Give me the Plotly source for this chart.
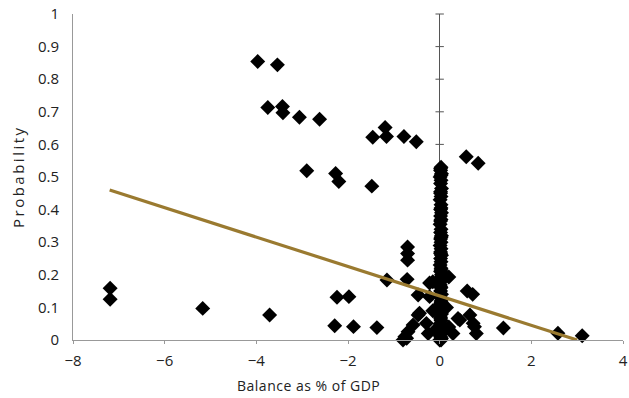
import plotly.graph_objects as go

# ---- data ----
# scattered observations away from zero balance
pts_x = [-3.97, -3.54, -3.75, -3.43, -3.42, -3.06, -2.62, -1.46, -1.19, -1.16, -0.78, -0.51,
         -2.90, -2.27, -2.20, -1.48, 0.58, 0.84,
         -7.19, -7.19, -5.17, -3.71, -2.24, -1.98, -2.29, -1.88, -1.37, -1.15,
         -0.70, -0.70, -0.70, -0.71, -0.47, -0.44, -0.47, -0.58, -0.69, -0.76, -0.80, -0.72,
         -0.15, -0.22, -0.22, 0.20, 0.60, 0.72, 0.40, 0.44, 0.66, 0.73, 0.76, 0.80, 0.29, 0.04,
         1.39, 2.58, 3.11, -0.29, 0.00, -0.25, 0.15, -0.15, 0.20, -0.10]
pts_y = [0.854, 0.844, 0.713, 0.716, 0.697, 0.683, 0.677, 0.622, 0.652, 0.624, 0.624, 0.608,
         0.519, 0.511, 0.486, 0.472, 0.562, 0.542,
         0.159, 0.125, 0.097, 0.077, 0.131, 0.133, 0.044, 0.041, 0.038, 0.184,
         0.285, 0.265, 0.245, 0.186, 0.138, 0.082, 0.077, 0.046, 0.025, 0.010, 0.000, 0.005,
         0.179, 0.175, 0.133, 0.193, 0.150, 0.140, 0.066, 0.061, 0.077, 0.051, 0.041, 0.020, 0.020, 0.005,
         0.037, 0.021, 0.013, 0.051, 0.000, 0.020, 0.100, 0.090, 0.040, 0.030]

# dense column of observations at (near) zero balance
col_x = [0.03, 0.02, 0.04, 0.01, 0.03, 0.02, 0.04, 0.02, 0.03, 0.01, 0.03, 0.02, 0.04, 0.02,
         0.03, 0.01, 0.03, 0.02, 0.04, 0.02, 0.03, 0.01, 0.03, 0.02, 0.04, 0.02, 0.03, 0.01,
         0.03, 0.02, 0.04, 0.02, 0.03, 0.01, 0.03, 0.02, 0.04, 0.02, 0.03, 0.01, 0.03, 0.02,
         0.04, 0.02, 0.03, 0.01, 0.03, 0.02, 0.04, 0.02, 0.03,
         0.02, 0.03, 0.02, 0.03, 0.02, 0.03, 0.02, 0.03, 0.02, 0.03, 0.02]
col_y = [0.53, 0.52, 0.51, 0.50, 0.49, 0.48, 0.465, 0.45, 0.44, 0.43, 0.415, 0.40, 0.39, 0.38,
         0.37, 0.355, 0.34, 0.33, 0.32, 0.31, 0.30, 0.29, 0.28, 0.27, 0.26, 0.25, 0.24, 0.23,
         0.22, 0.21, 0.20, 0.19, 0.18, 0.17, 0.16, 0.15, 0.14, 0.13, 0.12, 0.11, 0.10, 0.09,
         0.08, 0.07, 0.06, 0.05, 0.04, 0.03, 0.02, 0.01, 0.00,
         0.525, 0.505, 0.455, 0.405, 0.365, 0.315, 0.265, 0.215, 0.165, 0.115, 0.065]

# linear trend line end points
trend_x = [-7.2, 3.0]
trend_y = [0.46, 0.0]

x_ticks = [-8, -6, -4, -2, 0, 2, 4]
y_ticks = [0, 0.1, 0.2, 0.3, 0.4, 0.5, 0.6, 0.7, 0.8, 0.9, 1]

FONT = "Open Sans"
TXT = "#222222"

fig = go.Figure()

# small tick marks on the vertical axis through x = 0
fig.add_trace(go.Scatter(
    x=[0] * len(y_ticks), y=y_ticks, mode="markers",
    marker=dict(symbol="line-ew", size=6, line=dict(color="#555555", width=1)),
    hoverinfo="skip", showlegend=False, cliponaxis=False))

fig.add_trace(go.Scatter(
    x=col_x + pts_x, y=col_y + pts_y, mode="markers",
    marker=dict(symbol="diamond", size=11.5, color="#000000", line=dict(width=0)),
    showlegend=False, cliponaxis=False))

fig.add_trace(go.Scatter(
    x=trend_x, y=trend_y, mode="lines",
    line=dict(color="#9A7A30", width=3.2),
    showlegend=False))

fig.update_layout(
    width=629, height=398,
    margin=dict(l=73, r=6, t=14, b=58, autoexpand=False),
    paper_bgcolor="white", plot_bgcolor="white",
    font=dict(family=FONT, size=14, color=TXT),
    xaxis=dict(range=[-8, 4], tickvals=x_ticks, showgrid=False, automargin=False,
               showline=True, linecolor="#999999", linewidth=1,
               ticks="outside", ticklen=3, tickcolor="#999999",
               zeroline=True, zerolinecolor="#555555", zerolinewidth=1,
               ticklabelstandoff=4, tickfont=dict(size=15, family=FONT, color=TXT)),
    yaxis=dict(range=[0, 1], tickvals=y_ticks, showgrid=False, automargin=False,
               showline=True, linecolor="#999999", linewidth=1,
               zeroline=False, ticks="",
               ticklabelstandoff=10, tickfont=dict(size=15, family=FONT, color=TXT)),
    annotations=[
        dict(text='<span style="letter-spacing:0.5px">Balance as % of GDP</span>',
             xref="paper", yref="paper", x=0.428, y=-0.14,
             xanchor="center", yanchor="middle", showarrow=False,
             font=dict(size=14, family=FONT, color=TXT)),
        dict(text='<span style="letter-spacing:2.5px">Probability</span>',
             xref="paper", yref="paper", x=-0.1, y=0.5, textangle=-90,
             xanchor="center", yanchor="middle", showarrow=False,
             font=dict(size=15, family=FONT, color=TXT)),
    ],
)

fig.write_html("out.html")
